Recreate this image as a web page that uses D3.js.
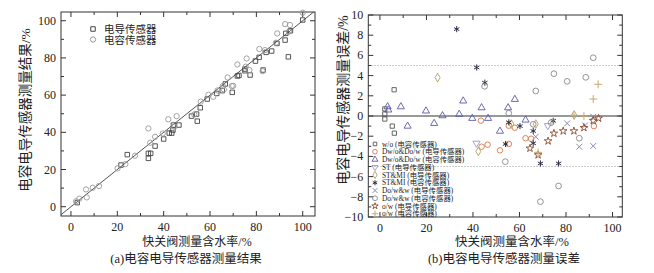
<!DOCTYPE html>
<html><head><meta charset="utf-8">
<script src="https://cdn.jsdelivr.net/npm/d3@7"></script>
<style>
body{margin:0;background:#fff;}
svg{display:block;}
text{font-family:"Liberation Serif","DejaVu Serif",serif;fill:#222;}
.cjk{font-family:"Liberation Serif","Noto Sans CJK SC",serif;}
</style></head><body>
<svg id="c" width="654" height="273"></svg>
<script>
// ---------- Data: panel (a) ----------
const condX = [2.7,21.6,24.3,33.4,33.4,34.4,36.3,40,42.4,43.5,44,44.2,46.6,52,54.2,54.5,55.8,58.8,62.9,65.3,66.6,69.6,71.8,72.5,75.1,75.1,77.3,79.6,81.2,82.9,84.2,86.6,88.9,92.4,92.7,93.8,94.7,100];
const condY = [2.2,22.4,28,26,28.7,28.7,32.6,36.4,39.6,39.6,41.2,43.9,43.9,48.7,49.8,46,53.2,57.9,60.9,62.4,66,61.5,70.3,70.6,74,73.1,70.8,78.3,80.3,73.5,83,83.7,87.8,89.6,93.2,80.6,94.6,100.4];
const capX = [2.2,3.6,6.5,6.8,9.4,12.1,20.1,23.5,27.6,33.4,34.2,36.3,39.6,42,45.6,44.6,53.2,56,59.3,61.4,63.2,65.5,66,67.6,69.4,70,71.8,75.4,75.8,77,81.3,82.7,83.7,88.5,89,92.4,94,94.5,100];
const capY = [2.9,4.3,9.3,5,10.2,11.1,20.6,22.9,27.4,42.1,34.4,37.6,39.4,47,48.7,43,49.6,56.5,60.2,59.1,62.5,64.9,63.1,69.5,64.9,65,76.5,75.3,79.7,73.5,84.8,72.9,84.2,88.2,93.2,98.2,94.1,97.7,104.3];
const legendA = ["电导传感器","电容传感器"];
const ticksA = [0,20,40,60,80,100];

// ---------- Data: panel (b) ----------
const legendB = ["w/o (电容传感器)","Dw/o&Do/w (电导传感器)","Dw/o&Do/w (电容传感器)","ST (电导传感器)","ST&MI (电导传感器)","ST&MI (电容传感器)","Do/w&w (电导传感器)","Do/w&w (电容传感器)","o/w (电导传感器)","o/w (电容传感器)"];
const s1 = [[2.1,0.7],[2.1,0.2],[2.1,-0.3],[5.3,-1.0],[6.2,-1.7],[6.1,2.6]];
const s2 = [[43.4,-0.46],[43.7,-3.04],[46.3,-2.84],[51.6,-3.4],[55.4,-2.77],[55.4,-0.96],[58,-1.16],[62.6,-2.2],[65,-2.25],[92,-1.0]];
const s3 = [[3.3,0.92],[3.6,0.6],[9,0.92],[11.9,-1.0],[19.8,0.5],[23.3,-0.73],[26.9,0.03],[34.1,0.17],[35.8,1.49],[39.7,-0.23],[43.7,0.82],[46.5,-0.23],[51.6,-1.5],[55.1,0.82],[58,1.65],[62.6,-0.4]];
const s4 = [[41.5,-2.7],[72.2,-0.96]];
const s5 = [[24.8,3.8],[42.3,-3.5],[56.5,-0.8],[67,-0.8],[83.5,0.1]];
const s6 = [[33,8.6],[41.6,4.8],[45.1,3.3],[55.4,-0.63],[60.2,-1.0],[54,-2.77],[65.9,-1.48],[65.9,-2.7],[69,-4.7],[76.8,-4.7],[74.5,-0.47]];
const s7 = [[67,-2.05],[80.5,-0.73],[85.7,-3.04],[91.7,-2.97],[88.2,-0.93],[91.7,-0.07]];
const s8 = [[45,2.94],[67,2.48],[74.8,4.19],[80.5,3.43],[88.5,3.83],[91.7,5.77],[55.4,0.27],[53.9,-4.52],[76.8,-6.93],[69,-8.48],[85.7,-2.2],[65.9,-0.82],[73.6,-0.66]];
const s9 = [[64.5,-3.2],[68,-3.86],[72.3,-2.48],[74.8,-1.72],[78.8,-1.49],[83.4,-1.49],[87.7,-1.16],[91.7,-0.46],[94,-0.23]];
const s10 = [[91.7,1.68],[93.8,3.14],[83.4,0.07],[87.7,0],[68,-3.6]];
const ticksBx = [0,20,40,60,80,100];
const ticksBy = [-10,-8,-6,-4,-2,0,2,4,6,8,10];

const svg = d3.select("#c");

function frame(g, x, y, xMaj, xMin, yMaj, yMin){
  const [x0,x1] = x.range(), [y0,y1] = y.range();
  g.append("rect").attr("x",x0).attr("y",y1).attr("width",x1-x0).attr("height",y0-y1)
    .attr("fill","none").attr("stroke","#333").attr("stroke-width",1);
  const t = g.append("g").attr("stroke","#333").attr("stroke-width",1);
  xMin.forEach(v=>{const L = xMaj.includes(v)?5:3; const px=x(v);
    t.append("line").attr("x1",px).attr("x2",px).attr("y1",y0).attr("y2",y0-L);
    t.append("line").attr("x1",px).attr("x2",px).attr("y1",y1).attr("y2",y1+L);});
  yMin.forEach(v=>{const L = yMaj.includes(v)?5:3; const py=y(v);
    t.append("line").attr("y1",py).attr("y2",py).attr("x1",x0).attr("x2",x0+L);
    t.append("line").attr("y1",py).attr("y2",py).attr("x1",x1).attr("x2",x1-L);});
  xMaj.forEach(v=>g.append("text").attr("x",x(v)).attr("y",y0+14.5).attr("text-anchor","middle").attr("font-size",12).text(v));
  yMaj.forEach(v=>g.append("text").attr("x",x0-5).attr("y",y(v)+4).attr("text-anchor","end").attr("font-size",12).text(v<0?"\u2212"+(-v):v));
}

// ---------- Panel (a) ----------
const xa = d3.scaleLinear().domain([-4.3,105.3]).range([61,315]);
const ya = d3.scaleLinear().domain([-5,104.7]).range([216,12]);
const ga = svg.append("g");
ga.append("clipPath").attr("id","ca").append("rect").attr("x",61).attr("y",12).attr("width",254).attr("height",204);
ga.append("line").attr("clip-path","url(#ca)")
  .attr("x1",xa(-10)).attr("y1",ya(-10)).attr("x2",xa(110)).attr("y2",ya(110))
  .attr("stroke","#555").attr("stroke-width",1);
frame(ga, xa, ya, ticksA, d3.range(0,101,10), ticksA, d3.range(0,101,10));
const sq = d3.symbol().type(d3.symbolSquare).size(20);
const ci = d3.symbol().type(d3.symbolCircle).size(22);
condX.forEach((v,i)=>ga.append("path").attr("d",sq).attr("transform",`translate(${xa(v)},${ya(condY[i])})`).attr("fill","none").attr("stroke","#444").attr("stroke-width",0.9));
capX.forEach((v,i)=>ga.append("path").attr("d",ci).attr("transform",`translate(${xa(v)},${ya(capY[i])})`).attr("fill","none").attr("stroke","#999").attr("stroke-width",0.9));
ga.append("path").attr("d",sq).attr("transform","translate(93,29)").attr("fill","none").attr("stroke","#444");
ga.append("path").attr("d",ci).attr("transform","translate(93,39.5)").attr("fill","none").attr("stroke","#999");
const lgA = ga.append("text").attr("class","cjk").attr("font-size",10.5);
legendA.forEach((s,i)=>lgA.append("tspan").attr("x",104).attr("y",33+i*10.5).text(s));
ga.append("text").attr("class","cjk").attr("transform","translate(30,110) rotate(-90)").attr("text-anchor","middle").attr("font-size",13.5).text("电容电导传感器测量结果/%");
ga.append("text").attr("class","cjk").attr("x",197).attr("y",246).attr("text-anchor","middle").attr("font-size",12).text("快关阀测量含水率/%");
ga.append("text").attr("class","cjk").attr("x",186).attr("y",263).attr("text-anchor","middle").attr("font-size",12.5).text("(a)电容电导传感器测量结果");

// ---------- Panel (b) ----------
const xb = d3.scaleLinear().domain([-5,104.2]).range([368.3,622.3]);
const yb = d3.scaleLinear().domain([-10,10]).range([217,15]);
const gb = svg.append("g");
gb.append("line").attr("x1",368.3).attr("x2",622.3).attr("y1",yb(0)).attr("y2",yb(0)).attr("stroke","#999").attr("stroke-width",2);
[5,-5].forEach(v=>gb.append("line").attr("x1",368.3).attr("x2",622.3).attr("y1",yb(v)).attr("y2",yb(v)).attr("stroke","#aaa").attr("stroke-width",0.8).attr("stroke-dasharray","1.5,1.5"));
frame(gb, xb, yb, ticksBx, d3.range(0,101,10), ticksBy, d3.range(-10,10.1,1));

const styles = [
  {t:d3.symbolSquare, c:"#555", s:18},
  {t:d3.symbolCircle, c:"#d9744a", s:24},
  {t:d3.symbolTriangle, c:"#5a5aa8", s:22},
  {t:d3.symbolTriangle, c:"#9a9ac4", s:22, r:180},
  {t:d3.symbolDiamond, c:"#b3a060", s:22},
  {t:d3.symbolAsterisk, c:"#2c2c48", s:26},
  {t:d3.symbolX, c:"#8a8aae", s:24},
  {t:d3.symbolCircle, c:"#888", s:26},
  {t:d3.symbolStar, c:"#8b4a2a", s:18},
  {t:d3.symbolPlus, c:"#c8a86a", s:22}
];
const seriesB = [s1,s2,s3,s4,s5,s6,s7,s8,s9,s10];
function mark(g, st, px, py, k){
  const stroke = [d3.symbolAsterisk,d3.symbolX,d3.symbolPlus].includes(st.t);
  g.append("path").attr("d", d3.symbol().type(st.t).size(st.s*(k||1)))
    .attr("transform",`translate(${px},${py})${st.r?` rotate(${st.r})`:""}`)
    .attr("fill","none").attr("stroke",st.c).attr("stroke-width",stroke?1:0.9);
}
seriesB.forEach((s,k)=>s.forEach(d=>mark(gb, styles[k], xb(d[0]), yb(d[1]))));
legendB.forEach((s,i)=>{
  const py = 144+i*7.75;
  mark(gb, styles[i], 375, py, 0.7);
  gb.append("text").attr("class","cjk").attr("x",382).attr("y",py+2.7).attr("font-size",7.4).text(s);
});
gb.append("text").attr("class","cjk").attr("transform","translate(347.5,100) rotate(-90)").attr("text-anchor","middle").attr("font-size",14).text("电容电导传感器测量误差/%");
gb.append("text").attr("class","cjk").attr("x",512).attr("y",246).attr("text-anchor","middle").attr("font-size",12.5).text("快关阀测量含水率/%");
gb.append("text").attr("class","cjk").attr("x",504).attr("y",263).attr("text-anchor","middle").attr("font-size",12.5).text("(b)电容电导传感器测量误差");
</script></body></html>
